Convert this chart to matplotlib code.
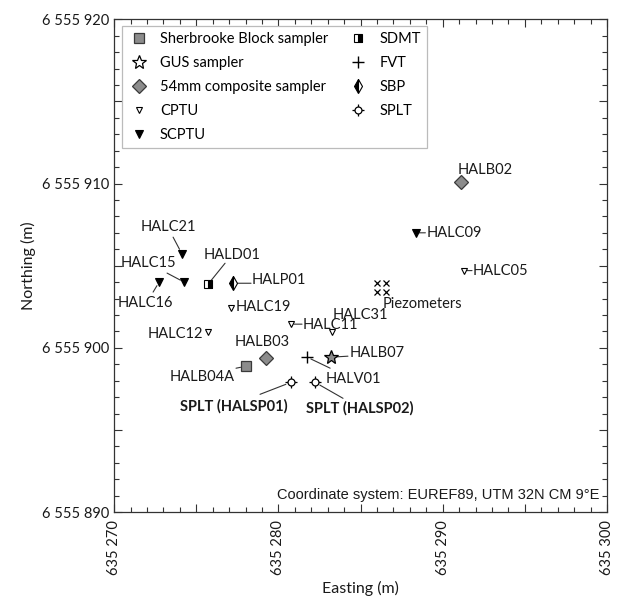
import matplotlib
matplotlib.use("Agg")
import matplotlib.pyplot as plt
from matplotlib.ticker import MultipleLocator, FuncFormatter
from matplotlib.lines import Line2D
from matplotlib.legend_handler import HandlerTuple

plt.rcParams['font.family'] = ['Lato', 'DejaVu Sans']

# ---- data (Easting, Northing in m) ----
sherbrooke_names = ["HALB04A"]
sherbrooke_e = [635278.03]
sherbrooke_n = [6555898.88]

gus_names = ["HALB07"]
gus_e = [635283.2]
gus_n = [6555899.43]

comp54_names = ["HALB03", "HALB02"]
comp54_e = [635279.25, 635291.1]
comp54_n = [6555899.37, 6555910.08]

cptu_names = ["HALC05", "HALC19", "HALC12", "HALC11", "HALC31"]
cptu_e = [635291.3, 635277.12, 635275.72, 635280.77, 635283.27]
cptu_n = [6555904.7, 6555902.41, 6555900.95, 6555901.44, 6555900.95]

scptu_names = ["HALC21", "HALC15", "HALC16", "HALC09"]
scptu_e = [635274.14, 635274.26, 635272.74, 635288.4]
scptu_n = [6555905.7, 6555904.0, 6555904.0, 6555907.0]

sdmt_names = ["HALD01"]
sdmt_e = [635275.72]
sdmt_n = [6555903.87]

fvt_names = ["HALV01"]
fvt_e = [635281.75]
fvt_n = [6555899.43]

sbp_names = ["HALP01"]
sbp_e = [635277.24]
sbp_n = [6555903.93]

splt_names = ["SPLT (HALSP01)", "SPLT (HALSP02)"]
splt_e = [635280.77, 635282.23]
splt_n = [6555897.9, 6555897.9]

piezo_e = [635286.0, 635286.55, 635286.0, 635286.55]
piezo_n = [6555903.93, 6555903.93, 6555903.38, 6555903.38]
piezo_label = "Piezometers"

legend_labels = ["Sherbrooke Block sampler", "GUS sampler", "54mm composite sampler",
                 "CPTU", "SCPTU", "SDMT", "FVT", "SBP", "SPLT"]

xlim = (635270, 635300)
ylim = (6555890, 6555920)
coord_text = "Coordinate system: EUREF89, UTM 32N CM 9\u00b0E"

# ---- layout: label offsets in pixels (dx, dy, ha), optional leader start (lx, ly, shrink) ----
label_layout = {
    "HALC21": ((-14, 27, "center"), (-9, 17, 4)),
    "HALC15": ((-36, 19, "center"), (-17, 9, 3)),
    "HALC16": ((-14, -21, "center"), (-6, -10, 3)),
    "HALD01": ((24, 29, "center"), (17, 21, 3)),
    "HALP01": ((19, 3, "left"), (18, 0, 2)),
    "HALC19": ((5, 1, "left"), None),
    "HALC12": ((-5, -2, "right"), None),
    "HALC11": ((12, -1, "left"), (11, 0, 2)),
    "HALC31": ((1, 17, "left"), None),
    "HALB07": ((19, 4, "left"), (17, 1, 4)),
    "HALV01": ((18, -22, "left"), (23, -11, 3)),
    "HALB03": ((-4, 16, "center"), None),
    "HALB04A": ((-11, -11, "right"), (-10, -2, 4)),
    "HALB02": ((-3, 12, "left"), None),
    "HALC09": ((10, 0, "left"), (9, 0, 2)),
    "HALC05": ((9, 0, "left"), (8, 0, 2)),
    "SPLT (HALSP01)": ((-57, -24, "center"), (-31, -12, 4)),
    "SPLT (HALSP02)": ((45, -26, "center"), (28, -16, 4)),
}

fig = plt.figure(figsize=(6.2, 5.97), dpi=100)
ax = fig.add_axes([0.184, 0.142, 0.795, 0.826])

gray = "#8c8c8c"
dark = "#3a3a3a"

st_sher = dict(marker="s", ms=7.5, mfc=gray, mec=dark, mew=0.9, ls="none")
st_gus = dict(marker="*", ms=10, mfc=gray, mec="black", mew=0.9, ls="none")
st_gus_leg = dict(marker="*", ms=10, mfc="white", mec="black", mew=0.9, ls="none")
st_54 = dict(marker="D", ms=7, mfc=gray, mec=dark, mew=0.9, ls="none")
st_cptu = dict(marker="v", ms=5, mfc="white", mec="black", mew=0.8, ls="none")
st_scptu = dict(marker="v", ms=6, mfc="black", mec="black", mew=0.8, ls="none")
st_sdmt = dict(marker="s", ms=5.5, fillstyle="right", mfc="black", mfcalt="white", mec="black", mew=0.8, ls="none")
st_fvt = dict(marker="+", ms=8, mec="black", mew=1.0, ls="none")
st_sbp = dict(marker="d", ms=7, fillstyle="left", mfc="black", mfcalt="white", mec="black", mew=0.8, ls="none")
st_splt_c = dict(marker="o", ms=5, mfc="white", mec="black", mew=0.9, ls="none")
st_splt_p = dict(marker="+", ms=9, mec="black", mew=0.9, ls="none")

ax.plot(sherbrooke_e, sherbrooke_n, zorder=5, **st_sher)
ax.plot(gus_e, gus_n, zorder=5, **st_gus)
ax.plot(comp54_e, comp54_n, zorder=5, **st_54)
ax.plot(cptu_e, cptu_n, zorder=5, **st_cptu)
ax.plot(scptu_e, scptu_n, zorder=5, **st_scptu)
ax.plot(sdmt_e, sdmt_n, zorder=5, **st_sdmt)
ax.plot(fvt_e, fvt_n, zorder=5, **st_fvt)
ax.plot(sbp_e, sbp_n, zorder=5, **st_sbp)
ax.plot(splt_e, splt_n, zorder=5, **st_splt_p)
ax.plot(splt_e, splt_n, zorder=6, **st_splt_c)
ax.plot(piezo_e, piezo_n, marker="x", ms=4, mec="black", mew=0.9, ls="none", zorder=5)

fs = 10.5
groups = [(sherbrooke_names, sherbrooke_e, sherbrooke_n), (gus_names, gus_e, gus_n),
          (comp54_names, comp54_e, comp54_n), (cptu_names, cptu_e, cptu_n),
          (scptu_names, scptu_e, scptu_n), (sdmt_names, sdmt_e, sdmt_n),
          (fvt_names, fvt_e, fvt_n), (sbp_names, sbp_e, sbp_n), (splt_names, splt_e, splt_n)]
for names, es, ns in groups:
    for name, e, n in zip(names, es, ns):
        (dx, dy, ha), lead = label_layout[name]
        bold = name.startswith("SPLT")
        ax.annotate(name, xy=(e, n), xytext=(dx, dy), textcoords="offset pixels",
                    ha=ha, va="center", fontsize=fs, fontweight="bold" if bold else "normal",
                    color="#1a1a1a", zorder=7)
        if lead is not None:
            lx, ly, sh = lead
            ax.annotate("", xy=(e, n), xytext=(lx, ly), textcoords="offset pixels",
                        arrowprops=dict(arrowstyle="-", lw=0.8, color="#333333",
                                        shrinkA=0, shrinkB=sh), zorder=4)

pe = sum(piezo_e) / len(piezo_e)
pn = sum(piezo_n) / len(piezo_n)
ax.annotate(piezo_label, xy=(pe, pn), xytext=(1.5, -16.5), textcoords="offset pixels",
            ha="left", va="center", fontsize=fs, color="#1a1a1a")

ax.text(0.985, 0.035, coord_text, transform=ax.transAxes, ha="right", va="center",
        fontsize=10.5, family="Liberation Sans", color="#1a1a1a")

ax.set_xlim(*xlim)
ax.set_ylim(*ylim)
ax.set_aspect("equal", adjustable="box")

ax.xaxis.set_major_locator(MultipleLocator(5))
ax.xaxis.set_minor_locator(MultipleLocator(1))
ax.yaxis.set_major_locator(MultipleLocator(5))
ax.yaxis.set_minor_locator(MultipleLocator(1))


def fmt(v, pos):
    iv = int(round(v))
    if iv % 10 != 0:
        return ""
    return f"{iv:,}".replace(",", " ")


ax.xaxis.set_major_formatter(FuncFormatter(fmt))
ax.yaxis.set_major_formatter(FuncFormatter(fmt))
ax.tick_params(which="both", direction="in", top=True, right=True, color="#333333")
ax.tick_params(which="major", length=6, width=0.8, labelsize=10.5, labelcolor="#1a1a1a")
ax.tick_params(which="minor", length=3.5, width=0.8)
for lab in ax.get_xticklabels():
    lab.set_rotation(90)
ax.tick_params(axis="x", which="major", pad=6)
for sp in ax.spines.values():
    sp.set_color("#333333")
    sp.set_linewidth(0.9)

ax.set_xlabel("Easting (m)", fontsize=11.5, color="#1a1a1a", labelpad=4)
ax.set_ylabel("Northing (m)", fontsize=11.5, color="#1a1a1a", labelpad=4)

handles = [Line2D([], [], **st_sher), Line2D([], [], **st_gus_leg), Line2D([], [], **st_54),
           Line2D([], [], **st_cptu), Line2D([], [], **st_scptu), Line2D([], [], **st_sdmt),
           Line2D([], [], **st_fvt), Line2D([], [], **st_sbp),
           (Line2D([], [], **st_splt_p), Line2D([], [], **st_splt_c))]
leg = ax.legend(handles, legend_labels, ncol=2, loc="upper left",
                bbox_to_anchor=(0.016, 0.986), borderaxespad=0, fontsize=10.5, frameon=True,
                fancybox=False, edgecolor="#bbbbbb", framealpha=1, handlelength=1.5,
                handletextpad=0.7, labelspacing=0.69, columnspacing=1.3, borderpad=0.4,
                handler_map={tuple: HandlerTuple(ndivide=1)})
leg.get_frame().set_linewidth(0.9)

fig.savefig("out.png", dpi=100)
